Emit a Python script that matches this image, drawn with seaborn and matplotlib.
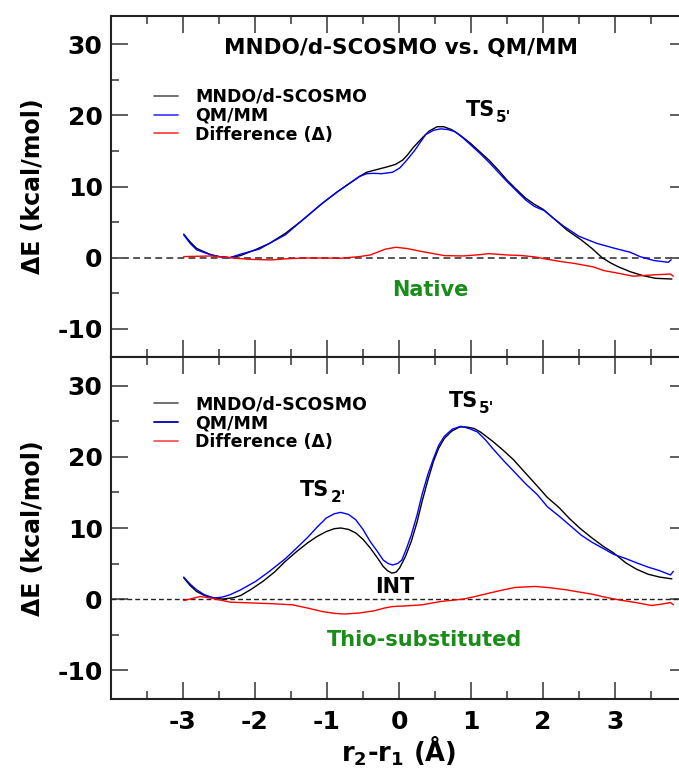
import numpy as np
import pandas as pd
import matplotlib
matplotlib.use("Agg")
import matplotlib.pyplot as plt
import seaborn as sns
from matplotlib.lines import Line2D

# ---------------- data ----------------
# Native (top panel)
nat_mndo_x = [-2.99, -2.9, -2.81, -2.7, -2.61, -2.5, -2.35, -2.2, -2.0, -1.8, -1.58, -1.35, -1.07, -0.85,
              -0.65, -0.55, -0.45, -0.3, -0.15, -0.05, 0.05, 0.115, 0.2, 0.32, 0.42, 0.53, 0.62, 0.73, 0.85,
              0.99, 1.12, 1.25, 1.38, 1.50, 1.63, 1.76, 1.88, 2.0, 2.15, 2.33, 2.53, 2.68, 2.82, 2.95, 3.05,
              3.21, 3.38, 3.56, 3.79]
nat_mndo_y = [3.3, 2.2, 1.3, 0.8, 0.4, 0.15, 0.0, 0.3, 1.1, 2.0, 3.4, 5.2, 7.6, 9.3,
              10.7, 11.4, 12.0, 12.4, 12.8, 13.1, 13.7, 14.4, 15.5, 16.8, 17.8, 18.4, 18.4, 18.0, 17.2,
              16.1, 14.9, 13.7, 12.3, 10.9, 9.6, 8.35, 7.5, 6.8, 5.5, 3.9, 2.5, 1.3, 0.0, -0.8, -1.3,
              -1.97, -2.5, -2.9, -3.0]

nat_qm_x = [-2.99, -2.9, -2.81, -2.7, -2.61, -2.5, -2.35, -2.2, -1.94, -1.8, -1.58, -1.35, -1.07, -0.85,
            -0.65, -0.55, -0.45, -0.35, -0.24, -0.09, 0.01, 0.1, 0.22, 0.37, 0.48, 0.58, 0.68, 0.78, 0.88,
            0.99, 1.12, 1.25, 1.38, 1.50, 1.63, 1.76, 1.88, 2.02, 2.15, 2.29, 2.5, 2.75, 3.0, 3.21, 3.35,
            3.54, 3.74, 3.78]
nat_qm_y = [3.2, 2.0, 1.1, 0.7, 0.4, 0.15, 0.0, 0.5, 1.2, 2.0, 3.2, 5.2, 7.6, 9.3,
            10.7, 11.4, 11.8, 11.85, 11.8, 12.0, 12.6, 13.6, 15.1, 17.3, 17.9, 18.1, 18.0, 17.7, 16.9,
            15.9, 14.7, 13.4, 12.0, 10.7, 9.4, 8.1, 7.2, 6.6, 5.5, 4.4, 3.0, 2.0, 1.3, 0.76, 0.14,
            -0.4, -0.65, -0.3]

nat_diff_x = [-2.99, -2.61, -2.35, -2.09, -1.78, -1.55, -1.32, -1.05, -0.81, -0.55, -0.40, -0.29, -0.19,
              -0.04, 0.12, 0.25, 0.37, 0.63, 0.89, 1.1, 1.25, 1.50, 1.70, 1.89, 2.06, 2.25, 2.43, 2.70,
              2.84, 3.05, 3.25, 3.44, 3.56, 3.77, 3.81]
nat_diff_y = [0.15, 0.24, 0.0, -0.23, -0.32, -0.15, -0.04, -0.05, -0.08, 0.15, 0.38, 0.8, 1.2,
              1.46, 1.27, 1.0, 0.76, 0.29, 0.24, 0.4, 0.56, 0.38, 0.3, 0.1, -0.23, -0.55, -0.8, -1.3,
              -1.8, -2.2, -2.6, -2.48, -2.4, -2.3, -2.6]

# Thio-substituted (bottom panel)
thio_mndo_x = [-2.99, -2.9, -2.81, -2.7, -2.61, -2.45, -2.3, -2.2, -2.05, -1.89, -1.73, -1.58, -1.42,
               -1.27, -1.14, -1.01, -0.9, -0.81, -0.70, -0.60, -0.50, -0.40, -0.30, -0.22, -0.16, -0.10,
               -0.04, 0.01, 0.09, 0.17, 0.25, 0.32, 0.40, 0.48, 0.55, 0.63, 0.73, 0.84, 0.94, 1.04, 1.13,
               1.30, 1.45, 1.59, 1.75, 1.92, 2.06, 2.22, 2.37, 2.52, 2.68, 2.84, 2.98, 3.15, 3.30, 3.46,
               3.62, 3.79]
thio_mndo_y = [3.0, 1.9, 1.07, 0.5, 0.23, 0.0, 0.2, 0.5, 1.4, 2.5, 3.8, 5.3, 6.7,
               7.9, 8.8, 9.5, 9.9, 10.0, 9.8, 9.3, 8.4, 7.2, 5.8, 4.6, 4.0, 3.65,
               3.8, 4.4, 6.0, 8.1, 10.8, 13.7, 16.7, 19.4, 21.2, 22.6, 23.6, 24.2, 24.2, 24.0, 23.5,
               22.2, 20.9, 19.6, 17.8, 15.9, 14.3, 12.9, 11.3, 9.9, 8.6, 7.4, 6.5, 5.1, 4.2, 3.5,
               3.1, 2.85]

thio_qm_x = [-2.99, -2.9, -2.81, -2.7, -2.56, -2.45, -2.35, -2.2, -1.99, -1.8, -1.58, -1.42, -1.27,
             -1.14, -1.01, -0.9, -0.81, -0.70, -0.60, -0.50, -0.40, -0.30, -0.22, -0.15, -0.09, -0.02,
             0.04, 0.10, 0.17, 0.25, 0.32, 0.40, 0.48, 0.55, 0.63, 0.74, 0.86, 0.97, 1.09, 1.20, 1.30,
             1.45, 1.61, 1.76, 1.92, 2.06, 2.22, 2.37, 2.53, 2.68, 2.84, 2.98, 3.15, 3.30, 3.46, 3.62,
             3.77, 3.81]
thio_qm_y = [3.1, 2.1, 1.3, 0.6, 0.14, 0.3, 0.6, 1.3, 2.5, 3.9, 5.67, 7.2, 8.67,
             10.1, 11.4, 12.0, 12.2, 11.9, 11.15, 9.8, 8.1, 6.7, 5.5, 5.0, 4.8, 5.0,
             5.5, 7.0, 9.0, 11.8, 14.7, 17.5, 19.8, 21.6, 22.9, 23.9, 24.3, 24.0, 23.5, 22.4, 21.2,
             19.5, 17.8, 16.2, 14.7, 13.0, 11.7, 10.4, 9.0, 8.0, 7.1, 6.3, 5.7, 5.1, 4.5, 4.0,
             3.4, 3.9]

thio_diff_x = [-2.99, -2.76, -2.61, -2.35, -1.99, -1.75, -1.48, -1.25, -1.07, -0.90, -0.76, -0.55,
               -0.35, -0.20, -0.09, 0.10, 0.32, 0.58, 0.89, 1.05, 1.25, 1.45, 1.61, 1.89, 2.10, 2.33,
               2.50, 2.68, 2.85, 3.05, 3.30, 3.51, 3.65, 3.77, 3.81]
thio_diff_y = [-0.2, 0.37, 0.14, -0.42, -0.56, -0.65, -0.8, -1.3, -1.74, -2.0, -2.1, -1.95,
               -1.65, -1.25, -1.04, -0.95, -0.8, -0.33, 0.0, 0.35, 0.84, 1.3, 1.64, 1.78, 1.6, 1.3,
               1.0, 0.7, 0.3, -0.1, -0.5, -0.9, -0.7, -0.48, -0.8]

series_names = ["MNDO/d-SCOSMO", "QM/MM", "Difference (\u0394)"]
x_ticks = [-3, -2, -1, 0, 1, 2, 3]
y_ticks = [-10, 0, 10, 20, 30]

# ---------------- style ----------------
sns.set_style("ticks")
plt.rcParams['font.family'] = ['DejaVu Sans']
plt.rcParams['font.weight'] = 'bold'
plt.rcParams['axes.unicode_minus'] = False
plt.rcParams['mathtext.fontset'] = 'dejavusans'
for key in ('text.color', 'axes.labelcolor', 'xtick.color', 'ytick.color',
            'xtick.labelcolor', 'ytick.labelcolor'):
    plt.rcParams[key] = 'black'

palette = {series_names[0]: "#000000", series_names[1]: "#0000ff", series_names[2]: "#ff0000"}
green = "#1a8c1a"

fig = plt.figure(figsize=(6.79, 7.69), dpi=100)
L, W = 111 / 679, 576 / 679
ax1 = fig.add_axes([L, 1 - 357.3 / 769, W, 341.6 / 769])
ax2 = fig.add_axes([L, 1 - 698.7 / 769, W, 341.4 / 769])


def long_df(mx, my, qx, qy, dx, dy):
    parts = []
    for name, xs, ys in zip(series_names, (mx, qx, dx), (my, qy, dy)):
        parts.append(pd.DataFrame({"x": xs, "E": ys, "series": name}))
    return pd.concat(parts, ignore_index=True)


df_nat = long_df(nat_mndo_x, nat_mndo_y, nat_qm_x, nat_qm_y, nat_diff_x, nat_diff_y)
df_thio = long_df(thio_mndo_x, thio_mndo_y, thio_qm_x, thio_qm_y, thio_diff_x, thio_diff_y)

for ax, df, dash_col, dash_lw in ((ax1, df_nat, "#555555", 1.4), (ax2, df_thio, "#222222", 1.0)):
    ax.axhline(0, color=dash_col, lw=dash_lw, dashes=(3.5, 2.2), zorder=1)
    sns.lineplot(data=df, x="x", y="E", hue="series", hue_order=series_names, palette=palette,
                 estimator=None, sort=False, legend=False, linewidth=1.0, ax=ax, zorder=3)
    ax.set_xlim(-4, 4)
    ax.set_ylim(-14, 34)
    ax.set_xticks(x_ticks)
    ax.set_xticks([-3.5, -2.5, -1.5, -0.5, 0.5, 1.5, 2.5, 3.5], minor=True)
    ax.set_yticks(y_ticks)
    ax.set_yticks([-5, 5, 15, 25], minor=True)
    ax.tick_params(which="both", direction="in", top=True, right=True, color="#333333", width=1.1,
                   labelcolor="black")
    ax.tick_params(which="major", length=12)
    ax.tick_params(which="minor", length=6)
    ax.tick_params(axis="y", labelsize=18, pad=6)
    ax.tick_params(axis="x", labelsize=18, pad=8)
    for s in ax.spines.values():
        s.set_linewidth(1.5)
        s.set_color("#222222")
    ax.set_xlabel("")
    ax.set_ylabel("\u0394E (kcal/mol)", fontsize=17, fontweight="bold", color="black")
    ax.yaxis.set_label_coords(-0.115, 0.5)

ax1.tick_params(axis="x", labelbottom=False)
ax2.set_xlabel("r$_\\mathbf{2}$-r$_\\mathbf{1}$ (\u00c5)", fontsize=18.5, fontweight="bold", color="black")
ax2.xaxis.set_label_coords(0.5, -0.105)


# legends
def make_legend(ax, colors, anchor):
    handles = [Line2D([0], [0], color=c, lw=1.3) for c in colors]
    leg = ax.legend(handles, series_names, loc="upper left", bbox_to_anchor=anchor, frameon=False,
                    fontsize=12.5, handlelength=1.4, handletextpad=1.0, labelspacing=0.05,
                    borderpad=0, borderaxespad=0)
    for t in leg.get_texts():
        t.set_fontweight("bold")
        t.set_color("black")


make_legend(ax1, ["#666666", "#4444ff", "#ff4444"], (0.074, 0.789))
make_legend(ax2, ["#666666", "#0000aa", "#ff5555"], (0.074, 0.889))


def ts_label(ax, x, y, sub):
    t = ax.text(x, y, "TS", fontsize=15, fontweight="bold", ha="left", va="center", color="black")
    ax.annotate(sub, xy=(1, 0.5), xycoords=t, xytext=(0.5, 0), textcoords="offset points",
                fontsize=11, fontweight="bold", ha="left", va="top", color="black")


ax1.text(0.03, 29.4, "MNDO/d-SCOSMO vs. QM/MM", fontsize=15.5, fontweight="bold", ha="center",
         va="center", color="black")
ts_label(ax1, 0.93, 20.8, "5'")
ax1.text(0.44, -4.5, "Native", color=green, fontsize=15, fontweight="bold", ha="center", va="center")

ts_label(ax2, 0.69, 27.9, "5'")
ts_label(ax2, -1.37, 15.3, "2'")
ax2.text(-0.065, 1.7, "INT", fontsize=15, fontweight="bold", ha="center", va="center", color="black")
ax2.text(0.36, -5.7, "Thio-substituted", color=green, fontsize=15, fontweight="bold", ha="center",
         va="center")

fig.savefig("out.png", dpi=100)
